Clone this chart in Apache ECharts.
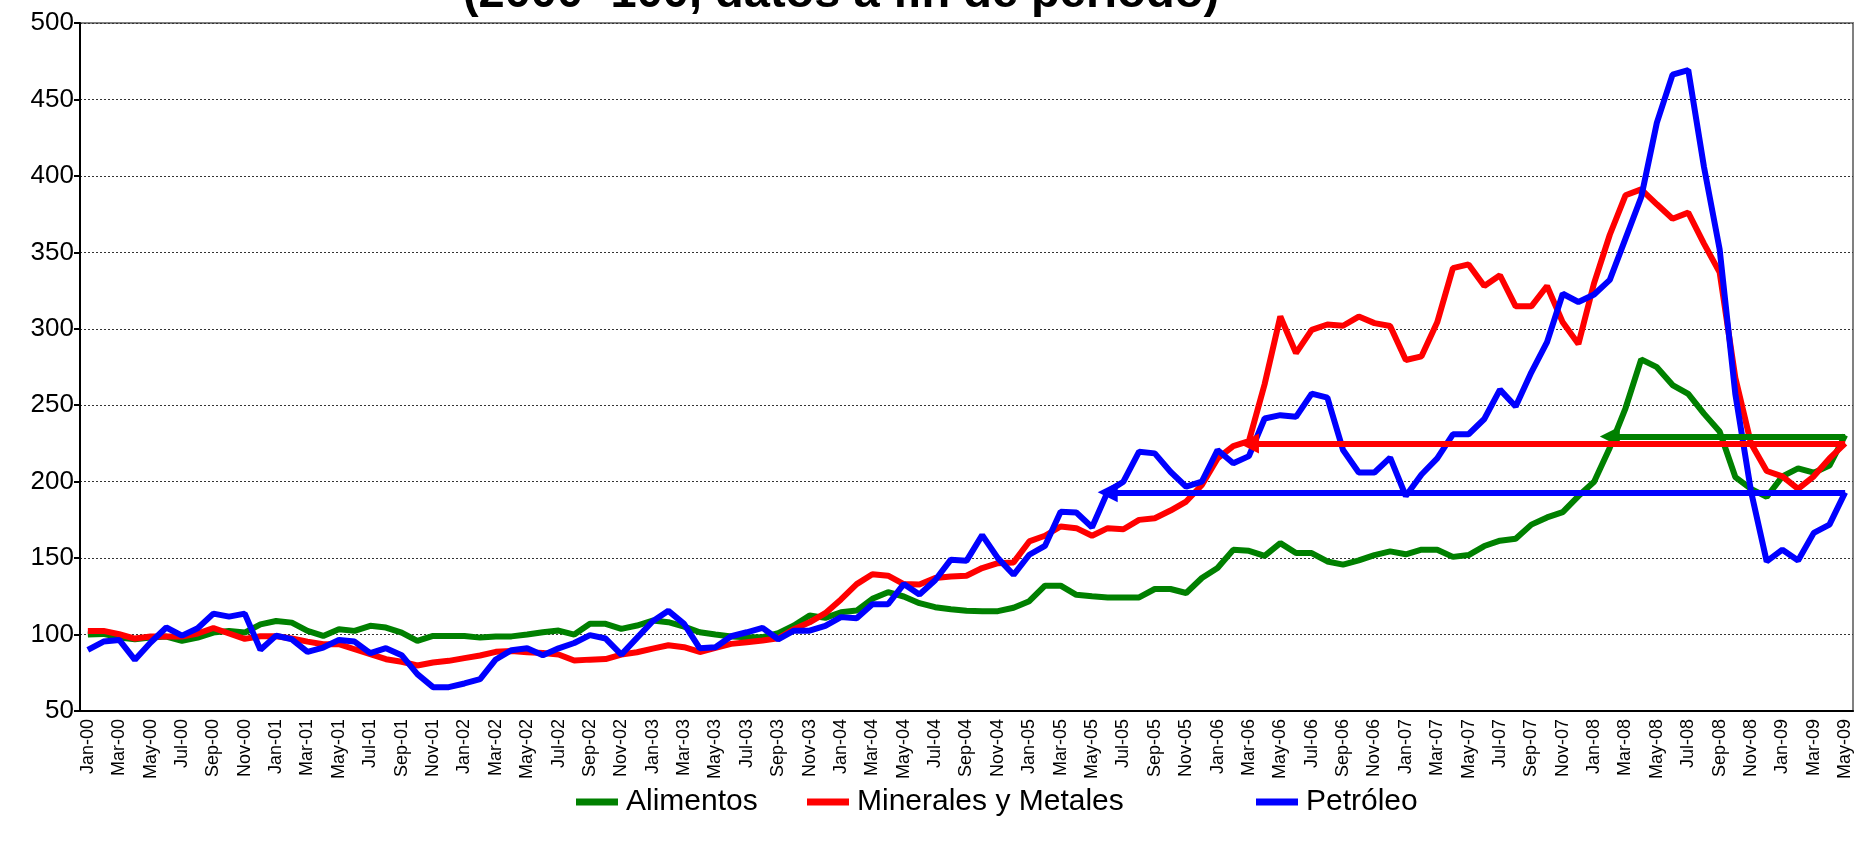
<!DOCTYPE html>
<html><head><meta charset="utf-8">
<script src="https://cdn.jsdelivr.net/npm/echarts@6/dist/echarts.min.js"></script>
<style>html,body{margin:0;padding:0;background:#fff}#c{width:1864px;height:851px}</style>
</head><body><div id="c"></div>
<script>
const monthNames = ['Jan','Feb','Mar','Apr','May','Jun','Jul','Aug','Sep','Oct','Nov','Dec'];
const yearSuffixes = ['00','01','02','03','04','05','06','07','08','09'];
const lastCategory = 'May-09';
const categories = [];
outer: for (const y of yearSuffixes) { for (const m of monthNames) { categories.push(m + '-' + y); if (m + '-' + y === lastCategory) break outer; } }

const seriesNames = ['Alimentos', 'Minerales y Metales', 'Petróleo'];

const alimentos = [
 100,100.4,98,97,98,98.7,95.9,98,101.3,102.4,101.3,106.7,
 108.9,107.8,102.4,99.1,103.5,102.4,105.7,104.6,101.3,95.9,99.1,99.1,
 99.1,98,98.7,98.8,100,101.5,102.6,100,107,107,103.7,105.9,
 109.2,108.1,105.2,101.5,100,98.7,98.3,98.3,100.9,105.9,112.5,110.9,
 114.6,115.7,123.4,127.7,124.9,120.5,117.9,116.5,115.5,115.3,115.3,117.5,
 121.8,132,132,126,125,124.3,124.3,124.3,129.8,129.8,127.2,137,
 143.5,155.4,154.8,151.5,159.8,153.3,153.3,147.8,145.7,148.5,152,154.4,
 152.5,155.5,155.5,150.8,152,157.9,161.4,162.6,171.9,176.6,180.1,190.6,
 200,222.2,248,280,274.9,263.2,257.4,244.5,232.8,203,195.3,190,
 203.5,208.7,205.9,210.5,230.4
];
const minerales = [
 102.4,102.4,100.2,97.4,98.7,98.7,98.7,100.7,104.3,100.7,97.2,98.9,
 98.9,97.4,95.4,93.7,93.7,90.4,87.2,83.9,82.2,79.8,81.7,82.8,
 84.6,86.3,88.7,89.3,88.5,88,87,83,83.6,84,86.9,88.4,
 90.8,93,91.7,88.6,91.3,93.9,95,96.1,97.5,103.5,108,114,
 123,133,139.5,138.5,133,132.8,137,138,138.5,143.5,146.7,147.2,
 160.9,164.6,170.7,169.6,164.6,169.6,168.9,175,176.1,181.1,187,197.8,
 215.2,223.3,226.5,263.7,308,284.1,299.3,302.8,302,308,303.7,301.8,
 279.6,282,304.2,339.7,342.1,328,335,314.7,314.7,328,304.2,290.1,
 329.9,361.5,387.3,391.2,381.4,372,376,355.7,336.9,268,225,207,
 203.5,195.3,203.5,215.2,225
];
const petroleo = [
 90,95.4,96.5,83.5,94.8,104.6,99.3,104.1,113.7,111.7,113.7,90,
 99.3,96.9,88.7,91.5,96.5,95.4,87.8,91.1,86.5,74.1,65.6,65.6,
 68,70.8,83.7,89.8,91,86.5,91,94.5,99.6,97.4,86.9,97.8,
 108.7,115.5,107,91,91.7,98.9,101.5,104.4,96.9,102.5,102.5,105.7,
 111.4,110.7,119.8,119.8,133,126.2,135.5,149,148.2,165,150,139.1,
 152.2,158,180.4,179.8,170.2,193.5,200,219.6,218.5,206.5,196.7,200,
 220.7,212,216.7,241.3,243.5,242.4,257.6,255,220.7,206,206,215.7,
 190.6,204.7,215.2,231,231,241,260.2,249.2,271.5,291.3,322.9,317.5,
 322.4,332,359,386,434.8,466.2,469.2,406,352,257.4,193.7,147.8,
 155.5,148.5,166.5,171.9,193
];

// horizontal reference arrows: [from category (arrow tip), to category, level]
const arrowAlimentos = ['Feb-08', 'May-09', 229.5];
const arrowMinerales = ['Mar-06', 'May-09', 225];
const arrowPetroleo = ['Jun-05', 'May-09', 193];

const yTicks = {min: 50, max: 500, step: 50};
const titleText = '(2000=100, datos a fin de período)';

const colors = ['#008000', '#ff0000', '#0000ff'];
const FONT = '"Liberation Sans", Arial, sans-serif';

function arrowLine(a, color) {
  return {
    silent: true, animation: false,
    symbol: ['triangle', 'none'], symbolSize: [20, 20],
    label: {show: false},
    lineStyle: {type: 'solid', width: 6, color: color},
    itemStyle: {color: color},
    emphasis: {disabled: true},
    data: [[{coord: [a[0], a[2]]}, {coord: [a[1], a[2]]}]]
  };
}

const chart = echarts.init(document.getElementById('c'), null, {renderer: 'canvas'});
const datasets = [alimentos, minerales, petroleo];
const arrows = [arrowAlimentos, arrowMinerales, arrowPetroleo];
const legendLefts = [571, 802, 1251];

chart.setOption({
  animation: false,
  backgroundColor: '#fff',
  textStyle: {fontFamily: FONT},
  graphic: [{
    type: 'text', x: 841, y: 18,
    style: {text: titleText, font: 'bold 47px ' + FONT, fill: '#000',
            align: 'center', verticalAlign: 'bottom', textAlign: 'center', textVerticalAlign: 'bottom'}
  }],
  legend: seriesNames.map((n, i) => ({
    data: [n], left: legendLefts[i], top: 782,
    icon: 'rect', itemWidth: 42, itemHeight: 7,
    textStyle: {fontSize: 30, color: '#000', fontFamily: FONT, padding: [0, 0, 0, 3]},
    selectedMode: false
  })),
  grid: {left: 80, right: 11, top: 23, bottom: 140, show: true, borderColor: '#808080', borderWidth: 2},
  xAxis: {
    type: 'category', data: categories, boundaryGap: true,
    axisLine: {lineStyle: {color: '#000', width: 2}},
    axisTick: {interval: 1, length: 6, lineStyle: {color: '#000', width: 2}},
    axisLabel: {interval: 1, rotate: 90, fontSize: 18, color: '#000', margin: 8, fontFamily: FONT},
    splitLine: {show: false}
  },
  yAxis: {
    type: 'value', min: yTicks.min, max: yTicks.max, interval: yTicks.step,
    axisLine: {show: true, lineStyle: {color: '#000', width: 2}},
    axisTick: {show: true, length: 6, lineStyle: {color: '#000', width: 2}},
    axisLabel: {fontSize: 26, color: '#000', margin: 6, fontFamily: FONT},
    splitLine: {show: true, lineStyle: {color: '#333', type: [2, 2], width: 1}}
  },
  series: seriesNames.map((n, i) => ({
    name: n, type: 'line', data: datasets[i], showSymbol: false, symbol: 'none',
    lineStyle: {color: colors[i], width: 6}, itemStyle: {color: colors[i]},
    emphasis: {disabled: true},
    markLine: arrowLine(arrows[i], colors[i])
  }))
});
</script></body></html>
